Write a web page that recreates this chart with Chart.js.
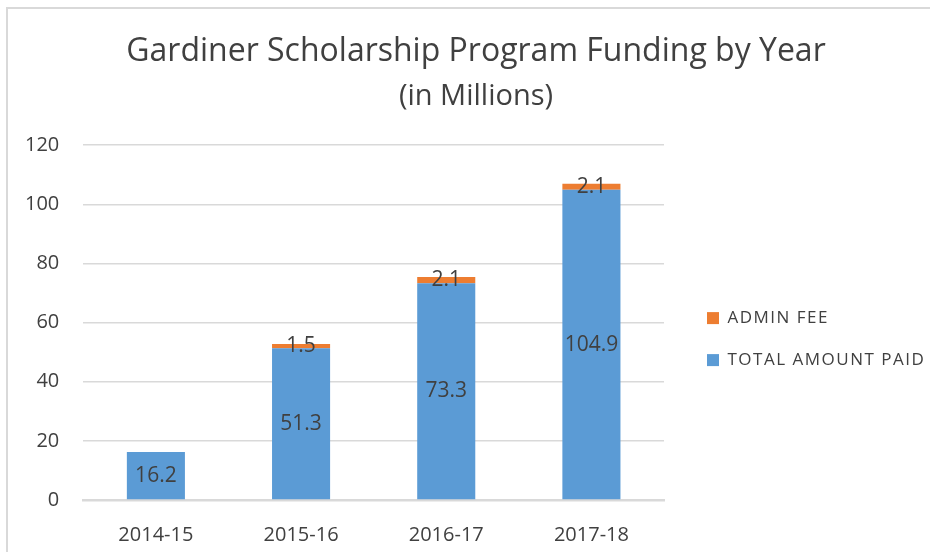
<!DOCTYPE html>
<html>
<head>
<meta charset="utf-8">
<script src="https://cdn.jsdelivr.net/npm/chart.js@4"></script>
<style>
  html, body { margin: 0; padding: 0; background: #fff; }
  #wrap { position: relative; width: 930px; height: 552px; overflow: hidden; }
  #frame { position: absolute; left: 6px; top: 7px; width: 940px; height: 560px; border: 2px solid #d9d9d9; box-sizing: border-box; }
  canvas { position: absolute; left: 0; top: 0; }
</style>
</head>
<body>
<div id="wrap">
  <div id="frame"></div>
  <canvas id="chartJSContainer" width="930" height="552"></canvas>
</div>
<script>
// values (millions)
var years = ['2014-15', '2015-16', '2016-17', '2017-18'];
var totalPaid = [16.2, 51.3, 73.3, 104.9];
var adminFee = [null, 1.5, 2.1, 2.1];
var seriesNames = ['TOTAL AMOUNT PAID', 'ADMIN FEE'];

var textColor = '#404040';
var fontFamily = '"Open Sans", "Noto Sans", sans-serif';

// writes each value in the middle of its segment
var barLabels = {
  id: 'barLabels',
  afterDatasetsDraw: function(chart) {
    var c = chart.ctx;
    c.save();
    c.font = '21px ' + fontFamily;
    c.fillStyle = textColor;
    c.textAlign = 'center';
    c.textBaseline = 'middle';
    chart.data.datasets.forEach(function(ds, i) {
      var meta = chart.getDatasetMeta(i);
      meta.data.forEach(function(bar, j) {
        var v = ds.data[j];
        if (v === null || v === undefined) return;
        c.fillText(v.toFixed(1), bar.x, (bar.y + bar.base) / 2);
      });
    });
    c.restore();
  }
};

// the legend box runs on past the canvas edge (the original chart is cropped),
// so the titles end up centred on the whole frame
var wideLegend = {
  id: 'wideLegend',
  beforeInit: function(chart) {
    var lg = chart.legend;
    var fit = lg.fit;
    var draw = lg.draw;
    lg.fit = function() {
      fit.call(this);
      this.width = 287;
    };
    lg.draw = function(area) {
      var c = this.ctx;
      c.save();
      c.translate(18, 0);
      c.letterSpacing = '1.5px';
      draw.call(this, area);
      c.restore();
    };
  }
};

var options = {
  type: 'bar',
  data: {
    labels: years,
    datasets: [
      {
        label: seriesNames[0],
        data: totalPaid,
        backgroundColor: '#5b9bd5',
        categoryPercentage: 1,
        barPercentage: 0.4
      },
      {
        label: seriesNames[1],
        data: adminFee,
        backgroundColor: '#ed7d31',
        categoryPercentage: 1,
        barPercentage: 0.4
      }
    ]
  },
  options: {
    responsive: false,
    animation: false,
    layout: { padding: { left: 1, right: -21, top: 33, bottom: -18 } },
    plugins: {
      title: {
        display: true,
        text: 'Gardiner Scholarship Program Funding by Year',
        color: textColor,
        font: { family: fontFamily, size: 32, weight: 'normal' },
        padding: { top: 0, bottom: 8 }
      },
      subtitle: {
        display: true,
        text: '(in Millions)',
        color: textColor,
        font: { family: fontFamily, size: 29, weight: 'normal' },
        padding: { top: 0, bottom: 31 }
      },
      legend: {
        position: 'right',
        reverse: true,
        title: { display: true, text: ' ', font: { size: 1 }, padding: { top: 74, bottom: 0 } },
        labels: {
          color: textColor,
          font: { family: fontFamily, size: 17 },
          boxWidth: 12,
          boxHeight: 12,
          padding: 25
        }
      },
      tooltip: { enabled: false }
    },
    scales: {
      x: {
        stacked: true,
        grid: { display: false, drawTicks: false },
        border: { color: '#d9d9d9', width: 2.5 },
        ticks: { color: textColor, font: { family: fontFamily, size: 20 }, padding: 23 }
      },
      y: {
        stacked: true,
        min: 0,
        max: 120,
        ticks: { stepSize: 20, color: textColor, font: { family: fontFamily, size: 20 }, padding: 24 },
        grid: { color: '#d9d9d9', lineWidth: 1.5, drawTicks: false },
        border: { display: false }
      }
    }
  },
  plugins: [barLabels, wideLegend]
};

var ctx = document.getElementById('chartJSContainer');
var myBarChart = new Chart(ctx, options);
</script>
</body>
</html>
